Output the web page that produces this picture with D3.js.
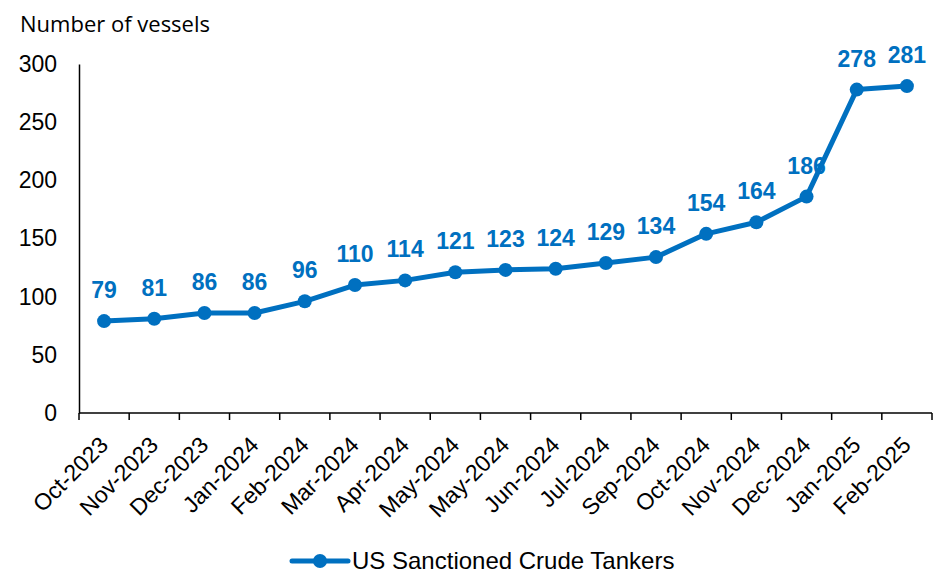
<!DOCTYPE html>
<html lang="en">
<head>
<meta charset="utf-8">
<script src="https://cdn.jsdelivr.net/npm/d3@7"></script>
<style>
  body { margin: 0; background: #fff; }
</style>
</head>
<body>
<svg id="chart" width="944" height="580"></svg>
<script>
// data
var months = ["Oct-2023","Nov-2023","Dec-2023","Jan-2024","Feb-2024","Mar-2024","Apr-2024","May-2024","May-2024 ","Jun-2024","Jul-2024","Sep-2024","Oct-2024","Nov-2024","Dec-2024","Jan-2025","Feb-2025"];
var tankers = [79,81,86,86,96,110,114,121,123,124,129,134,154,164,186,278,281];
var yTicks = [0,50,100,150,200,250,300];

var blue = "#0070C0";
var svg = d3.select("#chart");
var plotL = 79, plotR = 932, plotT = 64, plotB = 413;

var x = d3.scaleBand().domain(months).range([plotL, plotR]);
var y = d3.scaleLinear().domain([0, 300]).range([plotB, plotT]);

// title
svg.append("text").attr("x", 20).attr("y", 32)
  .style("font-family", "'Open Sans', 'Noto Sans', sans-serif").style("font-size", "22px")
  .text("Number of vessels");

// y axis
var yAxis = svg.append("g").attr("transform", "translate(" + plotL + ",0)")
  .call(d3.axisLeft(y).tickValues(yTicks).tickSize(0).tickPadding(22));
yAxis.select(".domain").attr("stroke", "#000").attr("stroke-width", 1.5);
yAxis.selectAll("text").style("font-family", "'Liberation Sans', Arial, sans-serif").style("font-size", "23px").attr("fill", "#000");

// x axis, ticks on the band edges
var xAxis = svg.append("g").attr("transform", "translate(0," + plotB + ")");
xAxis.append("line").attr("x1", plotL).attr("x2", plotR).attr("stroke", "#000").attr("stroke-width", 1.5);
var edges = months.map(function(m) { return x(m); }).concat([plotR]);
xAxis.selectAll("line.tick").data(edges).enter().append("line")
  .attr("class", "tick").attr("x1", function(d) { return d; }).attr("x2", function(d) { return d; })
  .attr("y1", 0).attr("y2", 7).attr("stroke", "#000").attr("stroke-width", 1.5);
xAxis.selectAll("text").data(months).enter().append("text")
  .attr("transform", function(d) { return "translate(" + (x(d) + x.bandwidth() / 2 - 6) + ",22) rotate(-45)"; })
  .attr("text-anchor", "end").attr("dy", "0.7em")
  .style("font-family", "'Liberation Sans', Arial, sans-serif").style("font-size", "23px")
  .text(function(d) { return d.trim(); });

var cx = function(d, i) { return x(months[i]) + x.bandwidth() / 2; };

// labels first, the line runs over them (see 186)
svg.selectAll("text.lbl").data(tankers).enter().append("text")
  .attr("class", "lbl").attr("x", cx).attr("y", function(d) { return y(d) - 23; })
  .attr("text-anchor", "middle").attr("fill", blue)
  .style("font-family", "'Liberation Sans', Arial, sans-serif").style("font-size", "23px").style("font-weight", "bold")
  .text(function(d) { return d; });

var line = d3.line().x(cx).y(function(d) { return y(d); });
svg.append("path").datum(tankers).attr("d", line)
  .attr("fill", "none").attr("stroke", blue).attr("stroke-width", 5).attr("stroke-linejoin", "round");
svg.selectAll("circle.pt").data(tankers).enter().append("circle")
  .attr("class", "pt").attr("cx", cx).attr("cy", function(d) { return y(d); })
  .attr("r", 7).attr("fill", blue);

// legend
var lg = svg.append("g").attr("transform", "translate(292,561)");
lg.append("line").attr("x1", 0).attr("x2", 56).attr("stroke", blue).attr("stroke-width", 5).attr("stroke-linecap", "round");
lg.append("circle").attr("cx", 28).attr("r", 7).attr("fill", blue);
lg.append("text").attr("x", 60).attr("dy", "0.35em")
  .style("font-family", "'Liberation Sans', Arial, sans-serif").style("font-size", "24px")
  .text("US Sanctioned Crude Tankers");
</script>
</body>
</html>
